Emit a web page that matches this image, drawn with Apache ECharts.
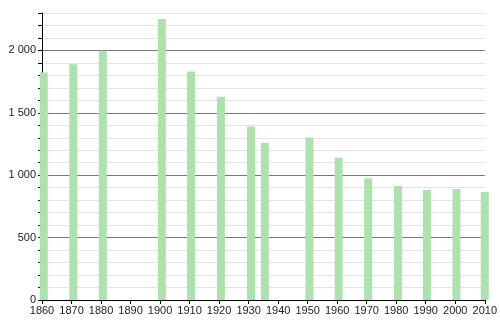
<!DOCTYPE html>
<html><head><meta charset="utf-8">
<script src="https://cdn.jsdelivr.net/npm/echarts@6/dist/echarts.min.js"></script>
<style>html,body{margin:0;padding:0;background:#fff}#c{width:500px;height:320px}</style>
</head><body><div id="c"></div>
<script>
const years = [1860.6, 1870.6, 1880.6, 1900.6, 1910.5, 1920.6, 1930.8, 1935.5, 1950.6, 1960.5, 1970.5, 1980.6, 1990.4, 2000.4, 2010];
const population = [1823, 1890, 1997, 2251, 1831, 1628, 1390, 1261, 1302, 1139, 976, 914, 882, 890, 866];
const xTicks = [1860, 1870, 1880, 1890, 1900, 1910, 1920, 1930, 1940, 1950, 1960, 1970, 1980, 1990, 2000, 2010];

const chart = echarts.init(document.getElementById('c'));
const fmt = v => v >= 1000 ? Math.floor(v/1000) + ' ' + String(v%1000).padStart(3,'0') : String(v);
chart.setOption({
  animation: false,
  grid: {left: 42, right: 13, top: 13, bottom: 20, containLabel: false},
  xAxis: {
    type: 'value', min: xTicks[0], max: xTicks[xTicks.length-1], interval: 10,
    axisLine: {onZero: false, lineStyle: {color: '#000', width: 1}},
    axisTick: {show: true, length: 4, lineStyle: {color: '#000'}},
    axisLabel: {color: '#222', fontSize: 11, fontFamily: 'Liberation Sans, Arial, sans-serif', margin: 5, formatter: v => String(v)},
    splitLine: {show: false}
  },
  yAxis: {
    type: 'value', min: 0, max: 2300, interval: 100,
    axisLine: {show: true, lineStyle: {color: '#000', width: 1}},
    axisTick: {show: true, length: 4, lineStyle: {color: '#000'}},
    axisLabel: {color: '#222', fontSize: 11, fontFamily: 'Liberation Sans, Arial, sans-serif', margin: 6,
      formatter: v => (v % 500 === 0) ? fmt(v) : ''},
    splitLine: {show: true, lineStyle: {color: ['#777', '#e3e3e3', '#e3e3e3', '#e3e3e3', '#e3e3e3'], width: 1}}
  },
  series: [{
    type: 'bar', clip: false, barWidth: 8,
    data: years.map((y, i) => [y, population[i]]),
    itemStyle: {color: '#ace3ac'}
  }]
});
</script></body></html>
